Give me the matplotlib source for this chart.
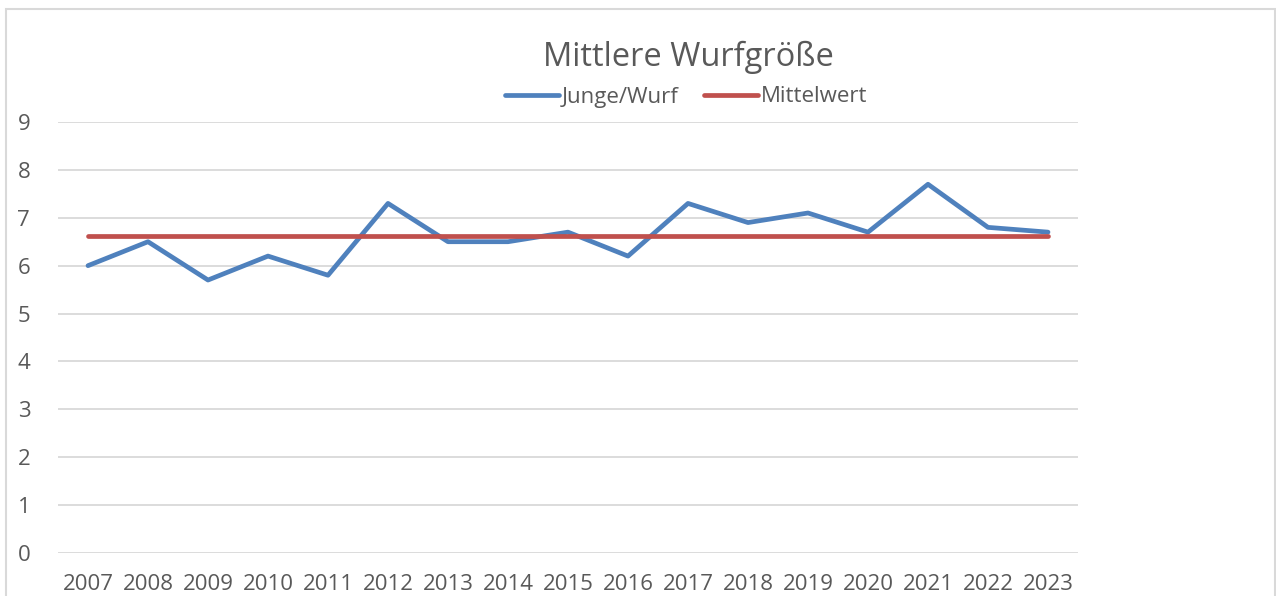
import matplotlib.pyplot as plt
from matplotlib.patches import Rectangle

# data
jahre = ["2007", "2008", "2009", "2010", "2011", "2012", "2013", "2014", "2015",
         "2016", "2017", "2018", "2019", "2020", "2021", "2022", "2023"]
junge_wurf = [6.0, 6.5, 5.7, 6.2, 5.8, 7.3, 6.5, 6.5, 6.7,
              6.2, 7.3, 6.9, 7.1, 6.7, 7.7, 6.8, 6.7]
mittelwert = [6.62] * len(jahre)

plt.rcParams['font.family'] = ['Open Sans', 'DejaVu Sans']
grau = '#595959'

W, H = 1276, 596
fig = plt.figure(figsize=(W / 100, H / 100), dpi=100)

# chart border (bottom runs off the picture)
fig.patches.append(Rectangle((6 / W, -0.1), (1275 - 6) / W, 1.1 - 9 / H,
                             transform=fig.transFigure, fill=False,
                             edgecolor='#d9d9d9', linewidth=1.5))

ax = fig.add_axes([58 / W, 1 - 553 / H, (1078 - 58) / W, (553 - 122) / H])
x = range(len(jahre))
ax.plot(x, junge_wurf, color='#4F81BD', linewidth=3.4, label='Junge/Wurf',
        solid_capstyle='round', solid_joinstyle='round')
ax.plot(x, mittelwert, color='#C0504D', linewidth=3.4, label='Mittelwert',
        solid_capstyle='round')

ax.set_xlim(-0.5, len(jahre) - 0.5)
ax.set_ylim(0, 9)
ax.set_yticks(range(10))
ax.set_xticks(list(x))
ax.set_xticklabels(jahre)
ax.grid(axis='y', color='#d9d9d9', linewidth=1.3)
ax.set_axisbelow(True)
for s in ax.spines.values():
    s.set_visible(False)
ax.tick_params(length=0, labelsize=16, labelcolor=grau)
ax.tick_params(axis='y', pad=20)
ax.tick_params(axis='x', pad=15)

fig.text(688 / W, 1 - 57 / H, 'Mittlere Wurfgröße', ha='center', va='center',
         fontsize=23.5, color=grau)
fig.legend(loc='center', bbox_to_anchor=(686 / W, 1 - 97 / H), ncol=2,
           frameon=False, fontsize=16, labelcolor=grau, handlelength=2.45,
           handletextpad=0.1, columnspacing=1.15)

fig.savefig('out.png', dpi=100)
